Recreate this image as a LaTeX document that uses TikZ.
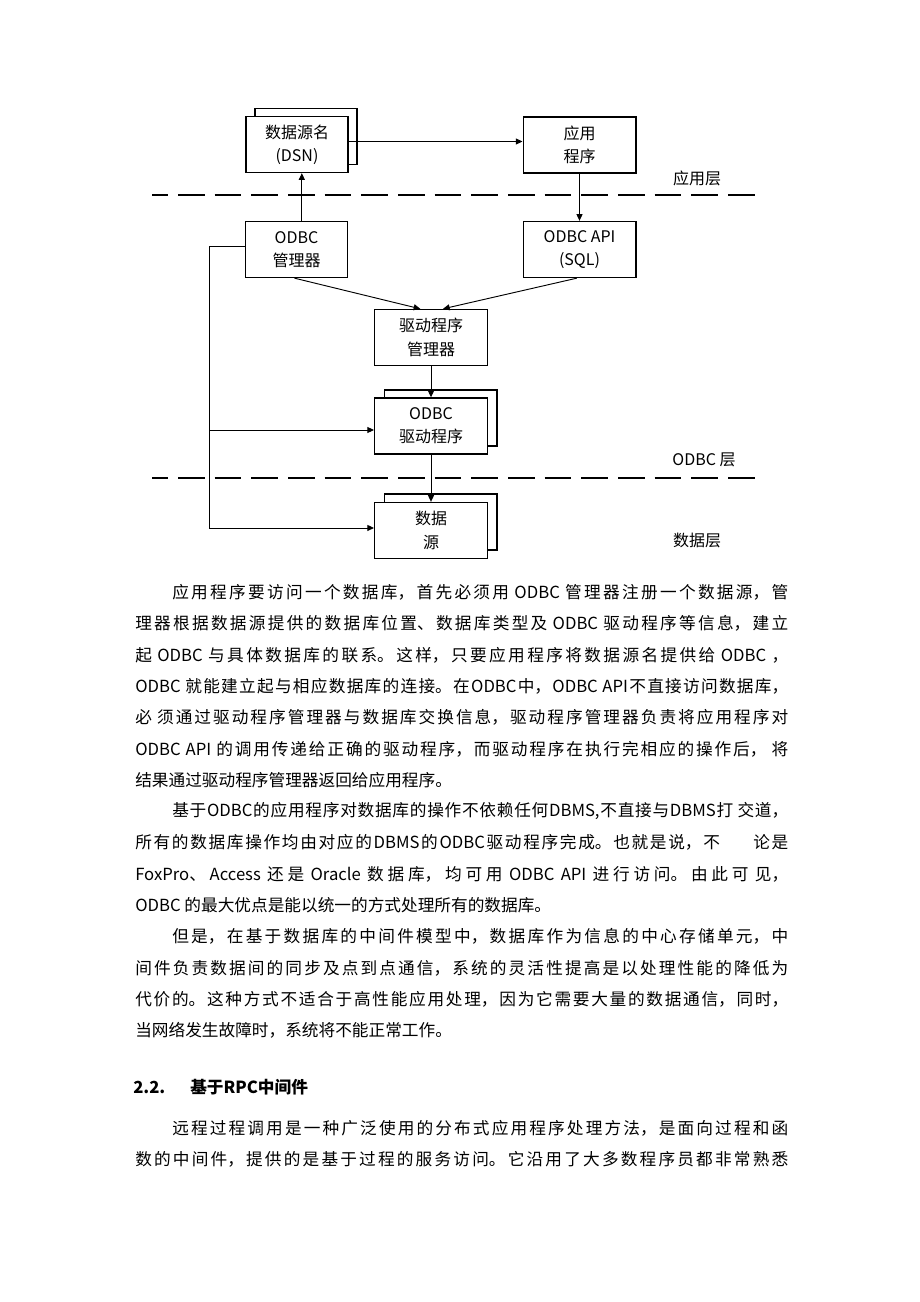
\documentclass[tikz,border=0pt]{standalone}
\usepackage{fontspec}
\setmainfont{Noto Sans CJK SC}
\usetikzlibrary{positioning,arrows.meta}
\XeTeXlinebreaklocale "zh"
\XeTeXlinebreakskip=0pt plus 2pt

\newcommand\bodyfont{\fontsize{12.5}{15}\selectfont}
\newcommand\diagfont{\fontsize{12}{17.5}\selectfont}
% one justified line of body text
\newcommand\jline[2]{\parbox{#1}{\parfillskip=0pt\tolerance=9999\noindent#2}}

\tikzset{
  box/.style={draw, line width=1pt, inner sep=0pt, align=center, font=\diagfont,
              minimum width=76.5pt, minimum height=42pt},
  widebox/.style={box, minimum width=84.5pt},
  front/.style={fill=white},
  conn/.style={line width=0.7pt},
  arr/.style={conn, -{Triangle[length=5pt,width=4.5pt]}},
  layerline/.style={line width=0.9pt, dash pattern=on 20pt off 7.5pt, dash phase=8pt},
  tag/.style={font=\diagfont, inner sep=0pt},
  txt/.style={anchor=west, inner sep=0pt, font=\bodyfont},
}

\begin{document}
\begin{tikzpicture}[x=0.75pt, y=-0.75pt]
  \useasboundingbox (0,0) rectangle (920,1302);

  % stacked boxes behind
  \node[box] (dsnback) at (306,136.5) {};
  \node[widebox] (drvback) at (440.5,418) {};
  \node[widebox] (srcback) at (440.5,522) {};

  % boxes
  \node[box, front] (dsn) at (297,144.5) {数据源名\\(DSN)};
  \node[widebox, front] (app) at (579.5,145) {应用\\程序};
  \node[box, front] (mgr) at (296.5,249.5) {ODBC\\管理器};
  \node[widebox, front] (api) at (579.5,249.5) {ODBC API\\(SQL)};
  \node[widebox, front] (drvmgr) at (431,337.5) {驱动程序\\管理器};
  \node[widebox, front] (drv) at (431,426) {ODBC\\驱动程序};
  \node[widebox, front] (src) at (431,530.5) {数据\\源};

  % layers
  \coordinate (la) at (152,195);
  \coordinate (lb) at (755,195);
  \coordinate (lc) at (152,478);
  \coordinate (ld) at (755,478);
  \draw[layerline] (la) -- (lb);
  \draw[layerline] (lc) -- (ld);
  \node[tag] (tapp) at (697,178) {应用层};
  \node[tag] (todbc) at (704,460) {ODBC 层};
  \node[tag] (tdata) at (697,540) {数据层};

  % connectors
  \draw[arr] ([yshift=2.25pt]dsn.east) -- ([yshift=2.25pt]dsn.east -| app.west);
  \draw[arr] ([xshift=4pt]mgr.north) -- ([xshift=4pt]mgr.north |- dsn.south);
  \draw[arr] (app.south) -- (api.north);
  \draw[arr] ([xshift=-1.5pt]mgr.south) -- ([xshift=-8pt]drvmgr.north);
  \draw[arr] ([xshift=-2pt]api.south) -- ([xshift=9pt]drvmgr.north);
  \draw[arr] (drvmgr.south) -- (drv.north);
  \draw[arr] (drv.south) -- (src.north);
  \coordinate (bus) at (209,246);
  \coordinate (drvin) at ([yshift=-3pt]drv.west);
  \coordinate (srcin) at ([yshift=1.9pt]src.west);
  \draw[arr] (bus -| mgr.west) -- (bus) |- (srcin);
  \draw[arr] (bus |- drvin) -- (drvin);

  % body text
  \node[txt] (p1a) at (172,592) {\jline{462pt}{应用程序要访问一个数据库，首先必须用 ODBC 管理器注册一个数据源，管}};
  \node[txt] (p1b) at (135,623) {\jline{489.75pt}{理器根据数据源提供的数据库位置、数据库类型及 ODBC 驱动程序等信息，建立}};
  \node[txt] (p1c) at (135,655) {\jline{489.75pt}{起 ODBC 与具体数据库的联系。这样，只要应用程序将数据源名提供给 ODBC ，}};
  \node[txt] (p1d) at (135,686) {\jline{489.75pt}{ODBC 就能建立起与相应数据库的连接。在ODBC中，ODBC API不直接访问数据库，}};
  \node[txt] (p1e) at (135,717) {\jline{489.75pt}{必 须通过驱动程序管理器与数据库交换信息，驱动程序管理器负责将应用程序对}};
  \node[txt] (p1f) at (135,749) {\jline{489.75pt}{ODBC API 的调用传递给正确的驱动程序，而驱动程序在执行完相应的操作后， 将}};
  \node[txt] (p1g) at (135,780) {结果通过驱动程序管理器返回给应用程序。};

  \node[txt] (p2a) at (172,811) {\jline{462pt}{基于ODBC的应用程序对数据库的操作不依赖任何DBMS,不直接与DBMS打 交道，}};
  \node[txt] (p2b) at (135,842) {\jline{489.75pt}{所有的数据库操作均由对应的DBMS的ODBC驱动程序完成。也就是说，不\hspace{2em}论是}};
  \node[txt] (p2c) at (135,874) {\jline{489.75pt}{FoxPro、Access 还是 Oracle 数据库，均可用 ODBC API 进行访问。由此可 见，}};
  \node[txt] (p2d) at (135,905) {ODBC 的最大优点是能以统一的方式处理所有的数据库。};

  \node[txt] (p3a) at (172,936) {\jline{462pt}{但是，在基于数据库的中间件模型中，数据库作为信息的中心存储单元，中}};
  \node[txt] (p3b) at (135,968) {\jline{489.75pt}{间件负责数据间的同步及点到点通信，系统的灵活性提高是以处理性能的降低为}};
  \node[txt] (p3c) at (135,999) {\jline{489.75pt}{代价的。这种方式不适合于高性能应用处理，因为它需要大量的数据通信，同时，}};
  \node[txt] (p3d) at (135,1030) {当网络发生故障时，系统将不能正常工作。};

  \node[txt, font=\bodyfont\bfseries] (sec) at (133,1087) {2.2.\hspace{1.5em}基于RPC中间件};

  \node[txt] (p4a) at (172,1128) {\jline{462pt}{远程过程调用是一种广泛使用的分布式应用程序处理方法，是面向过程和函}};
  \node[txt] (p4b) at (135,1159) {\jline{489.75pt}{数的中间件，提供的是基于过程的服务访问。它沿用了大多数程序员都非常熟悉}};
\end{tikzpicture}
\end{document}
